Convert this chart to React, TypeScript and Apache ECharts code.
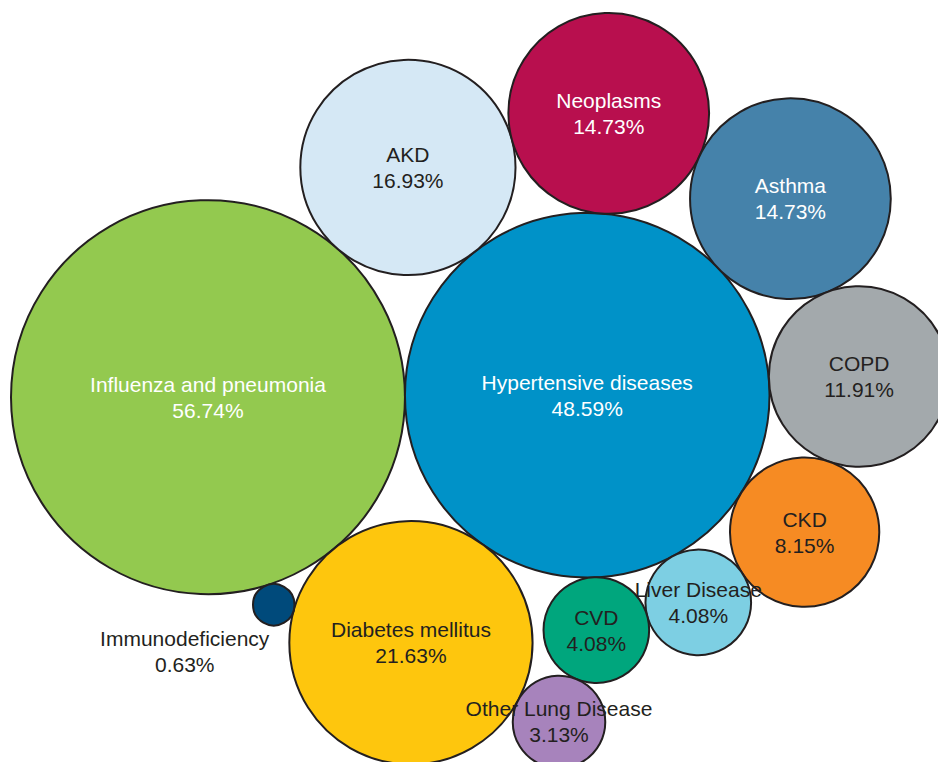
import React, { useEffect, useRef } from "react";
import * as echarts from "echarts";

// ---- data ----
const categories = [
  "Influenza and pneumonia",
  "Hypertensive diseases",
  "Diabetes mellitus",
  "AKD",
  "Neoplasms",
  "Asthma",
  "COPD",
  "CKD",
  "Liver Disease",
  "CVD",
  "Other Lung Disease",
  "Immunodeficiency",
];
const values = [56.74, 48.59, 21.63, 16.93, 14.73, 14.73, 11.91, 8.15, 4.08, 4.08, 3.13, 0.63];

// ---- layout rules: each circle is tangent to two earlier circles (by index), on one side ----
const tangentTo: [number, number, number][] = [
  [-1, -1, 0], // first circle
  [0, -1, 0], // second: tangent to first, to its right
  [0, 1, 1],
  [0, 1, -1],
  [3, 1, -1],
  [4, 1, -1],
  [5, 1, -1],
  [6, 1, -1],
  [7, 1, -1],
  [8, 1, -1],
  [9, 2, -1],
  [0, 2, 1],
];

// ---- styles ----
const colors = [
  "#93c94f",
  "#0092c8",
  "#fec60d",
  "#d5e8f5",
  "#b80f4e",
  "#4582aa",
  "#a3a9ac",
  "#f68b23",
  "#7dcfe3",
  "#00a67d",
  "#a783bc",
  "#004a7b",
];
const textColors = [
  "#ffffff",
  "#ffffff",
  "#231f20",
  "#231f20",
  "#ffffff",
  "#ffffff",
  "#231f20",
  "#231f20",
  "#231f20",
  "#231f20",
  "#231f20",
  "#231f20",
];

const W = 938;
const H = 762;
const ROT = (-0.3 * Math.PI) / 180;
const SCALE = 26.15; // px per sqrt(value)
const LEFT = 11;
const TOP = 13;

type C = { x: number; y: number; r: number };

function placeTangent(A: C, B: C, c: C, side: number) {
  const dx = B.x - A.x;
  const dy = B.y - A.y;
  const d = Math.sqrt(dx * dx + dy * dy);
  const ux = dx / d;
  const uy = dy / d;
  const nx = -uy;
  const ny = ux;
  const da = A.r + c.r;
  const db = B.r + c.r;
  const x = (da * da - db * db + d * d) / (2 * d);
  const y = Math.sqrt(Math.max(0, da * da - x * x));
  c.x = A.x + x * ux + side * y * nx;
  c.y = A.y + x * uy + side * y * ny;
}

function buildData() {
  const circles: C[] = values.map((v) => ({ x: 0, y: 0, r: Math.sqrt(v) }));
  circles.forEach((c, i) => {
    const [a, b, s] = tangentTo[i];
    if (a < 0) {
      c.x = 0;
      c.y = 0;
    } else if (b < 0) {
      c.x = circles[a].x + circles[a].r + c.r;
      c.y = circles[a].y;
    } else {
      placeTangent(circles[a], circles[b], c, s);
    }
  });
  const cos = Math.cos(ROT);
  const sin = Math.sin(ROT);
  circles.forEach((c) => {
    const x = c.x * cos - c.y * sin;
    const y = c.x * sin + c.y * cos;
    c.x = x;
    c.y = y;
  });
  let minX = Infinity, minY = Infinity;
  circles.forEach((c) => {
    minX = Math.min(minX, c.x - c.r);
    minY = Math.min(minY, c.y - c.r);
  });
  const k = SCALE;
  return circles.map((c, i) => {
    const item: any = {
      name: categories[i],
      value: [LEFT + (c.x - minX) * k, TOP + (c.y - minY) * k, values[i]],
      symbolSize: 2 * c.r * k,
      itemStyle: { color: colors[i] },
      label: { color: textColors[i] },
    };
    if (categories[i] === "Immunodeficiency") {
      item.label.offset = [-89, 47];
    }
    return item;
  });
}

export default function App() {
  const ref = useRef<HTMLDivElement>(null);
  useEffect(() => {
    if (!ref.current) return;
    const chart = echarts.init(ref.current, undefined, { renderer: "svg" });
    chart.setOption({
      animation: false,
      grid: { left: 0, right: 0, top: 0, bottom: 0 },
      xAxis: { type: "value", min: 0, max: W, show: false },
      yAxis: { type: "value", min: 0, max: H, inverse: true, show: false },
      series: [
        {
          type: "scatter",
          symbol: "circle",
          data: buildData(),
          itemStyle: { borderColor: "#231f20", borderWidth: 2, opacity: 1 },
          emphasis: { disabled: true },
          label: {
            show: true,
            position: "inside",
            fontFamily: "Liberation Sans, Arial, sans-serif",
            fontSize: 21,
            lineHeight: 26,
            formatter: (p: any) => `${p.name}\n${p.value[2].toFixed(2)}%`,
          },
        },
      ],
    });
    return () => chart.dispose();
  }, []);
  return (
    <div
      ref={ref}
      style={{ position: "fixed", left: 0, top: 0, width: W, height: H, background: "#fff" }}
    />
  );
}
